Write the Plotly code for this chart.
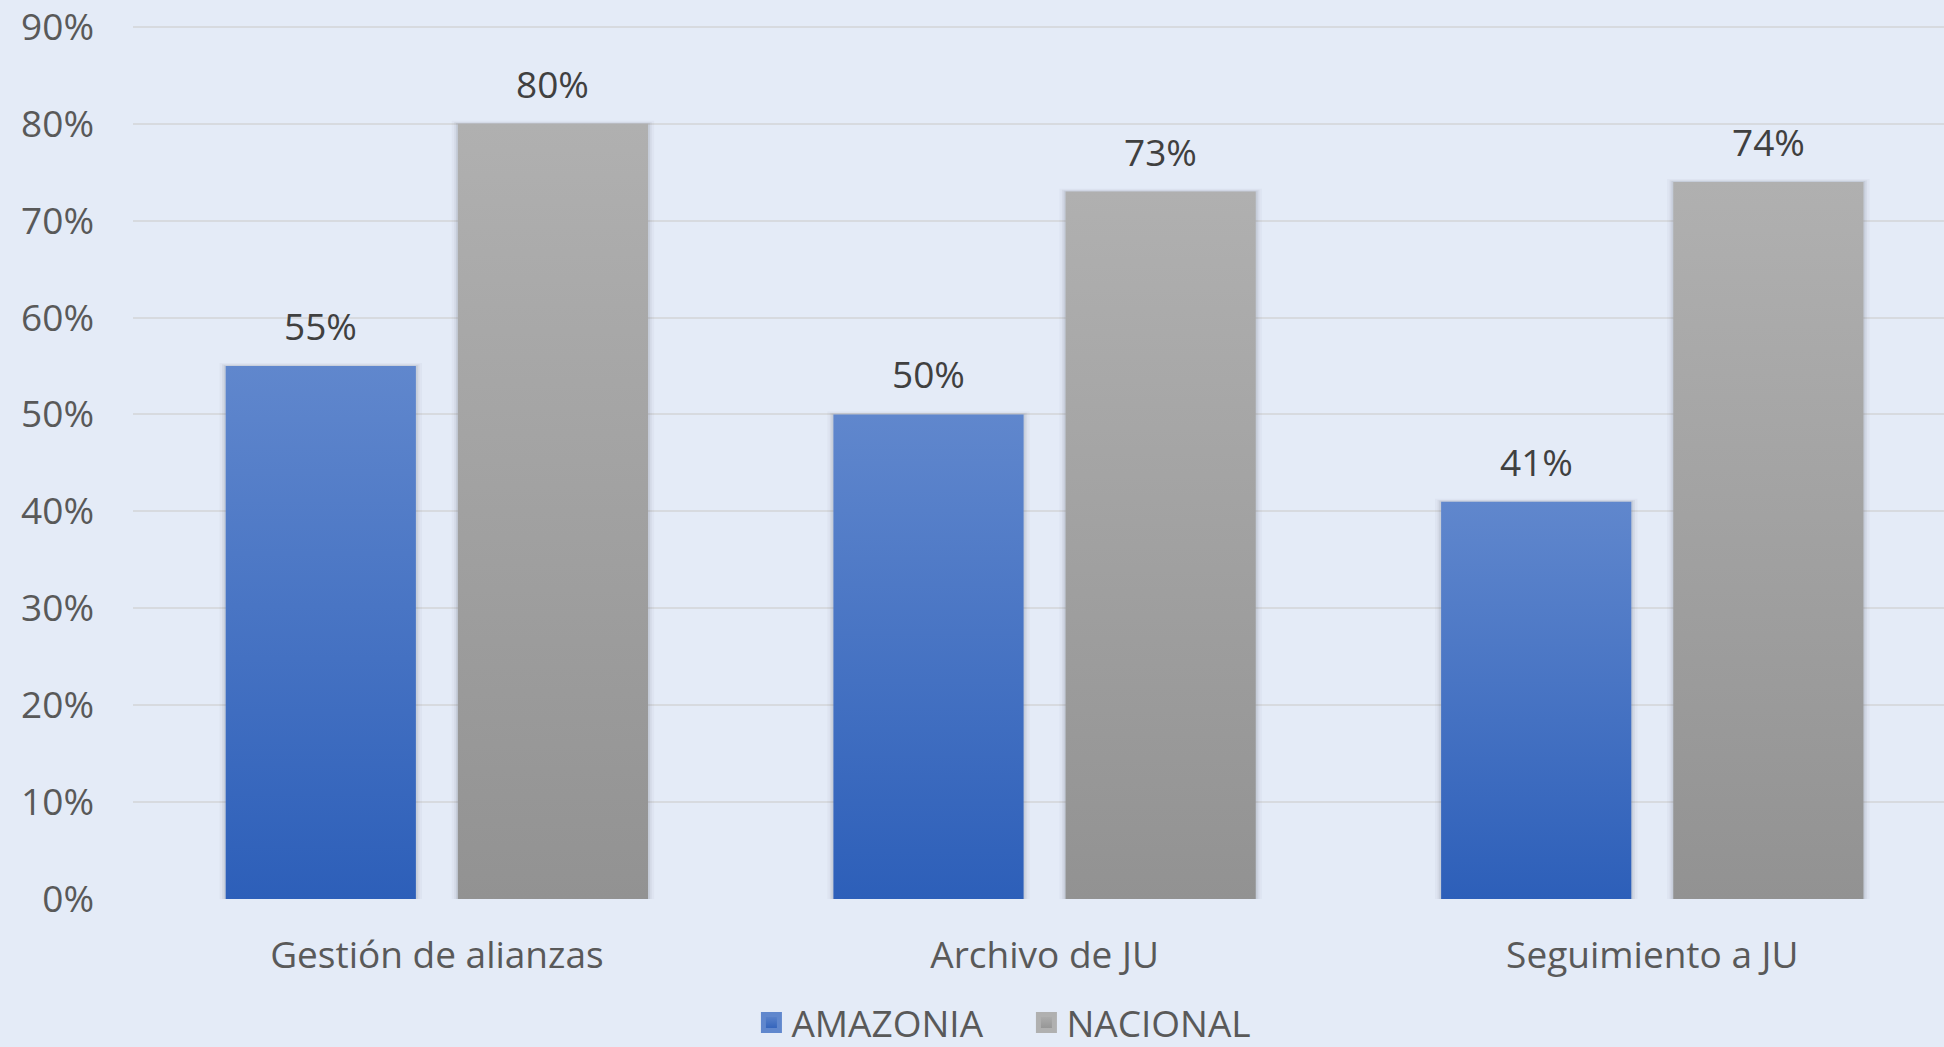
import plotly.graph_objects as go

# Data
categories = ["Gestión de alianzas", "Archivo de JU", "Seguimiento a JU"]
series_names = ["AMAZONIA", "NACIONAL"]
amazonia = [0.55, 0.50, 0.41]
nacional = [0.80, 0.73, 0.74]
y_ticks = [0.0, 0.1, 0.2, 0.3, 0.4, 0.5, 0.6, 0.7, 0.8, 0.9]

# Styling
FONT = "Open Sans"
BG = "#E4EBF7"
GRID = "#D7DADF"
TICK_COLOR = "#595959"
LABEL_COLOR = "#404040"
SERIES_COLORS = {
    "AMAZONIA": ("#6087CD", "#2D5FB9"),  # (top, bottom)
    "NACIONAL": ("#B0B0B0", "#929292"),
}
BAR_WIDTH = 0.313      # bar width in category units
BAR_OFFSET = 0.191     # distance of each bar centre from the category centre

fig = go.Figure()

series = [("AMAZONIA", amazonia, -BAR_OFFSET), ("NACIONAL", nacional, BAR_OFFSET)]

for name, values, offset in series:
    top, bottom = SERIES_COLORS[name]
    for i, v in enumerate(values):
        cx = i + offset
        x0, x1 = cx - BAR_WIDTH / 2, cx + BAR_WIDTH / 2
        # soft shadow around each bar
        for k, a in ((0.010, 0.04), (0.006, 0.06), (0.003, 0.09)):
            fig.add_trace(go.Scatter(
                x=[x0 - k, x1 + k, x1 + k, x0 - k, x0 - k],
                y=[0, 0, v + k * 0.3, v + k * 0.3, 0],
                mode="lines", line=dict(width=0), fill="toself",
                fillcolor=f"rgba(70,75,90,{a})",
                hoverinfo="skip", showlegend=False,
            ))
        # the bar itself, with a vertical gradient
        fig.add_trace(go.Scatter(
            x=[x0, x1, x1, x0, x0],
            y=[0, 0, v, v, 0],
            mode="lines", line=dict(width=0), fill="toself",
            fillgradient=dict(type="vertical",
                              colorscale=[[0, bottom], [1, top]]),
            hoverinfo="skip", showlegend=False,
        ))
        fig.add_annotation(
            x=cx, y=v, text=f"{round(v * 100)}%", showarrow=False,
            yanchor="bottom", yshift=13,
            font=dict(family=FONT, size=37, color=LABEL_COLOR),
        )
    # legend entry
    fig.add_trace(go.Scatter(
        x=[None], y=[None], mode="markers", name=name,
        marker=dict(symbol="square", size=16, color=top,
                    gradient=dict(type="vertical", color=bottom),
                    line=dict(width=5, color=top)),
    ))

fig.update_layout(
    width=1944, height=1047,
    paper_bgcolor=BG, plot_bgcolor=BG,
    margin=dict(l=133, r=0, t=20, b=148),
    font=dict(family=FONT, size=37, color=TICK_COLOR),
    showlegend=True,
    legend=dict(
        orientation="h", xref="container", yref="container",
        x=0.528, xanchor="center", y=0.023, yanchor="middle",
        font=dict(family=FONT, size=37, color=TICK_COLOR),
        itemsizing="trace", bgcolor="rgba(0,0,0,0)",
        entrywidthmode="pixels", entrywidth=230,
    ),
    xaxis=dict(
        range=[-0.5, 2.48], tickmode="array",
        tickvals=list(range(len(categories))), ticktext=categories,
        showgrid=False, zeroline=False, showline=False, ticks="",
        ticklabelstandoff=31,
        tickfont=dict(family=FONT, size=37, color=TICK_COLOR),
    ),
    yaxis=dict(
        range=[0, 0.905], tickmode="array", tickvals=y_ticks,
        tickformat=".0%", showgrid=True, gridcolor=GRID, gridwidth=2,
        zeroline=False, showline=False, ticks="",
        ticklabelstandoff=38, ticklabeloverflow="allow",
        tickfont=dict(family=FONT, size=37, color=TICK_COLOR),
    ),
    hovermode=False,
)

fig.write_html("out.html")
